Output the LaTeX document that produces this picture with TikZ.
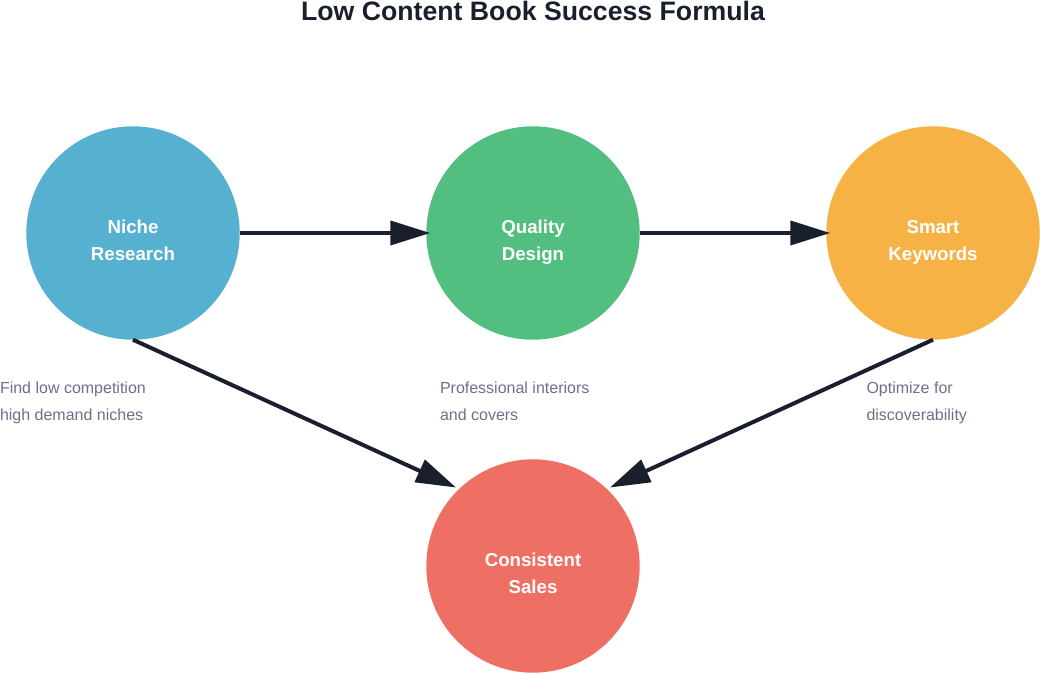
\documentclass[tikz,border=0pt]{standalone}
\usepackage{fontspec}
\setmainfont{Liberation Sans}
\usetikzlibrary{arrows.meta,calc}
\definecolor{inkdark}{HTML}{1A1F2E}
\definecolor{notegray}{HTML}{6C7089}
\definecolor{nicheblue}{HTML}{56B0CF}
\definecolor{qualitygreen}{HTML}{52BE80}
\definecolor{keywordorange}{HTML}{F7B245}
\definecolor{salesred}{HTML}{EE7064}
\tikzset{
    stage/.style={circle,minimum size=213.4pt,inner sep=0pt,outer sep=0pt,text=white,align=center,text height=60pt,text depth=6pt,font=\bfseries\fontsize{18.67}{26.67}\selectfont},
    note/.style={anchor=north west,inner sep=0pt,outer sep=0pt,align=left,text=notegray,font=\fontsize{16}{26.6}\selectfont},
    flow/.style={draw=inkdark,line width=4pt,-{Triangle[length=40pt,width=24pt]}},
  }

\begin{document}
\begin{tikzpicture}[x=1pt,y=-1pt]
	\useasboundingbox (0,0) rectangle (1040,673);

	%TITLE
	\node[font=\bfseries\fontsize{26.67}{30}\selectfont,text=inkdark] (title) at (533,10.5) {Low Content Book Success Formula};

	%CIRCLES
	\node[stage,fill=nicheblue] (niche) at (133,233) {Niche\\Research};
	\node[stage,fill=qualitygreen] (quality) at (533,233) {Quality\\Design};
	\node[stage,fill=keywordorange] (keywords) at (933,233) {Smart\\Keywords};
	\node[stage,fill=salesred] (sales) at (533,566) {Consistent\\Sales};

	%NOTES
	\node[note] (nichenote) at (0,382) {Find low competition\\high demand niches};
	\node[note] (qualitynote) at (440,382) {Professional interiors\\and covers};
	\node[note] (keywordsnote) at (866.5,382) {Optimize for\\discoverability};

	%ARROWS
	\coordinate (salesleft) at (456,487.5);
	\coordinate (salesright) at (610,487.5);
	\draw[flow,shorten >=-4pt] (niche.east) -- (quality.west);
	\draw[flow,shorten >=-4pt] (quality.east) -- (keywords.west);
	\draw[flow] (niche.south) -- (salesleft);
	\draw[flow] (keywords.south) -- (salesright);
\end{tikzpicture}
\end{document}
